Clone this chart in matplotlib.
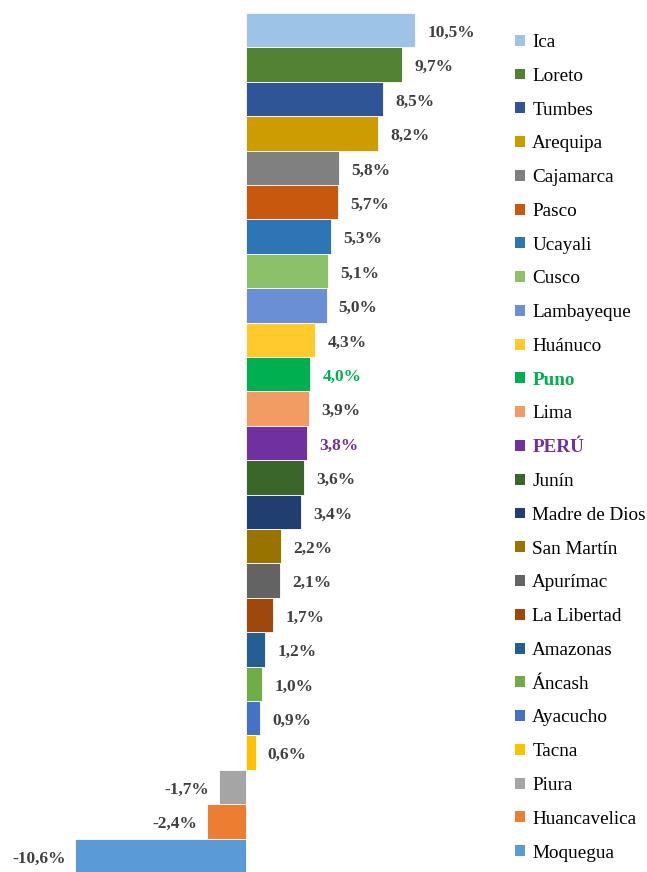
import matplotlib.pyplot as plt
from matplotlib.patches import Patch

plt.rcParams["font.family"] = ["Liberation Serif", "DejaVu Serif"]

regions = [
    "Ica", "Loreto", "Tumbes", "Arequipa", "Cajamarca", "Pasco", "Ucayali",
    "Cusco", "Lambayeque", "Huánuco", "Puno", "Lima", "PERÚ", "Junín",
    "Madre de Dios", "San Martín", "Apurímac", "La Libertad", "Amazonas",
    "Áncash", "Ayacucho", "Tacna", "Piura", "Huancavelica", "Moquegua",
]
growth = [
    10.5, 9.7, 8.5, 8.2, 5.8, 5.7, 5.3, 5.1, 5.0, 4.3, 4.0, 3.9, 3.8, 3.6,
    3.4, 2.2, 2.1, 1.7, 1.2, 1.0, 0.9, 0.6, -1.7, -2.4, -10.6,
]
colors = [
    "#9DC3E6", "#548235", "#2F5597", "#CC9C00", "#808080", "#C9580F",
    "#2E75B6", "#8CC16A", "#6A8FD4", "#FFCA2B", "#00B050", "#F29C64",
    "#7030A0", "#3B662A", "#203F70", "#997300", "#636363", "#9E480E",
    "#255E91", "#70AD47", "#4472C4", "#FFC000", "#A5A5A5", "#ED7D31",
    "#5B9BD5",
]
highlight = {"Puno": "#00B050", "PERÚ": "#7030A0"}

W, H = 647, 872
zero_px = 246
unit_px = 16.1
bar_px = 34.4
top_px = 13

fig = plt.figure(figsize=(W / 100, H / 100), dpi=100)
ax = fig.add_axes([0, 0, 1, 1])

y = list(range(len(regions)))
ax.barh(y, growth, height=1.0, color=colors, edgecolor="white", linewidth=0.6)

for yi, v, name in zip(y, growth, regions):
    txt = f"{v:.1f}%".replace(".", ",")
    col = highlight.get(name, "#404040")
    if v >= 0:
        ax.text(v + 0.75, yi + 0.08, txt, ha="left", va="center", fontsize=12.5,
                fontweight="bold", color=col)
    else:
        ax.text(v - 0.6, yi + 0.08, txt, ha="right", va="center", fontsize=12.5,
                fontweight="bold", color=col)

ax.set_xlim(-zero_px / unit_px, (W - zero_px) / unit_px)
ax.set_ylim(-0.5 + (H - top_px) / bar_px, -0.5 - top_px / bar_px)
ax.axis("off")

handles = [Patch(facecolor=c, edgecolor="none") for c in colors]
leg = ax.legend(
    handles, regions, loc="upper left", bbox_to_anchor=(515 / W, 1 - 34 / H),
    bbox_transform=fig.transFigure, frameon=False, fontsize=13.8,
    handlelength=0.5, handleheight=0.5, handletextpad=0.4,
    labelspacing=0.875, borderpad=0, borderaxespad=0,
)
for t in leg.get_texts():
    if t.get_text() in highlight:
        t.set_color(highlight[t.get_text()])
        t.set_fontweight("bold")

fig.savefig("out.png", dpi=100)
